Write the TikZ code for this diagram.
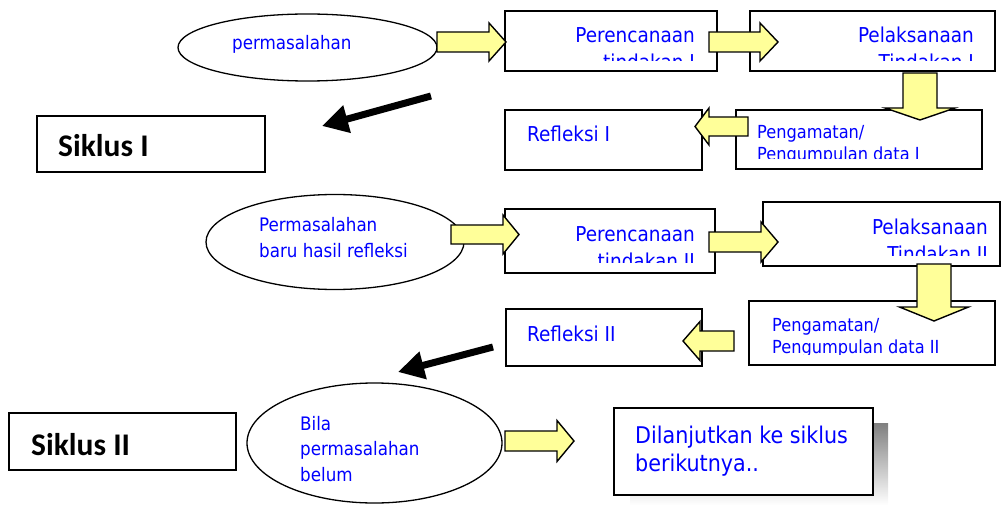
\documentclass[tikz,border=0pt]{standalone}
\usepackage{fontspec}
\usetikzlibrary{shapes.geometric,arrows.meta}
\newfontfamily\tahfont{DejaVu Sans Condensed}
\newfontfamily\sikfont{Carlito}
\definecolor{pale}{HTML}{FFFF99}
\definecolor{shade}{HTML}{C0C0C0}

% yellow block arrows: tail, centre, head base, tip, shaft width, head width
\newcommand{\hblock}[6]{\draw[yarrow] (#1,#2-#5/2) -- (#3,#2-#5/2) -- (#3,#2-#6/2) -- (#4,#2) -- (#3,#2+#6/2) -- (#3,#2+#5/2) -- (#1,#2+#5/2) -- cycle;}
\newcommand{\vblock}[6]{\draw[yarrow] (#2-#5/2,#1) -- (#2-#5/2,#3) -- (#2-#6/2,#3) -- (#2,#4) -- (#2+#6/2,#3) -- (#2+#5/2,#3) -- (#2+#5/2,#1) -- cycle;}
% text cut off above the bottom of its box (position = baseline of last line)
\newcommand{\boxtext}[5]{\begin{scope}
  \clip (#1.north west) rectangle ([yshift=11pt]#1.south east);
  \node[#2] (#4) at #3 {#5};
\end{scope}}

\begin{document}
\begin{tikzpicture}[x=1pt,y=-1pt,
    ell/.style={draw, ellipse, line width=1.3pt, inner sep=0pt},
    box/.style={draw, line width=1.8pt, fill=white, inner sep=0pt},
    sikbox/.style={draw, line width=1.5pt, inner sep=0pt},
    btext/.style={text=blue, inner sep=0pt, font=\tahfont\fontsize{20.5}{27}\selectfont},
    stext/.style={text=blue, inner sep=0pt, font=\tahfont\fontsize{18}{22}\selectfont},
    etext/.style={text=blue, inner sep=0pt, align=left, font=\tahfont\fontsize{18.6}{25.5}\selectfont},
    sik/.style={inner sep=0pt, font=\sikfont\bfseries\fontsize{31.5}{36}\selectfont},
    yarrow/.style={draw, line width=1.4pt, fill=pale, line join=miter},
    karrow/.style={line width=7pt, -{Triangle[length=26pt,width=27pt]}}]
  \useasboundingbox (0,0) rectangle (1001,505);

  % cycle I
  \node[ell, minimum width=259, minimum height=67] (perm1) at (307.5,47.5) {};
  \node[etext, anchor=base west] (t-perm1) at (232,50) {permasalahan};
  \node[box, minimum width=212, minimum height=60] (ren1) at (611,41) {};
  \boxtext{ren1}{btext, align=right, anchor=base east}{(695,70)}{t-ren1}{Perencanaan\\tindakan I}
  \node[box, minimum width=245, minimum height=60] (lak1) at (872.5,41) {};
  \boxtext{lak1}{btext, align=right, anchor=base east}{(974,70)}{t-lak1}{Pelaksanaan\\Tindakan I}
  \node[box, minimum width=246, minimum height=59] (amat1) at (859,139.5) {};
  \boxtext{amat1}{stext, align=left, anchor=base west}{(757,161)}{t-amat1}{Pengamatan/\\Pengumpulan data I}
  \node[box, minimum width=197, minimum height=60] (ref1) at (603.5,140) {};
  \node[btext, anchor=base west] (t-ref1) at (527,142) {Refleksi I};
  \node[sikbox, minimum width=228, minimum height=56] (sik1) at (151,144) {};
  \node[sik, anchor=base west] (t-sik1) at (58,157) {Siklus I};

  \hblock{437}{42}{489}{506}{20}{38}
  \hblock{709}{42}{760}{778}{20}{38}
  \vblock{73}{920}{108}{120}{34}{70}
  \hblock{748}{126.5}{709}{695}{19}{37}
  \coordinate (k1a) at (431,96);
  \coordinate (k1b) at (322,126);
  \draw[karrow] (k1a) -- (k1b);

  % cycle II
  \node[ell, minimum width=258, minimum height=95] (perm2) at (335,242) {};
  \node[etext, anchor=base west] (t-perm2) at (259,257) {Permasalahan\\baru hasil refleksi};
  \node[box, minimum width=210, minimum height=64] (ren2) at (610,241) {};
  \boxtext{ren2}{btext, align=right, anchor=base east}{(695,268)}{t-ren2}{Perencanaan\\tindakan II}
  \node[box, minimum width=237, minimum height=64] (lak2) at (881.5,234) {};
  \boxtext{lak2}{btext, align=right, anchor=base east}{(988,261)}{t-lak2}{Pelaksanaan\\Tindakan II}
  \node[box, minimum width=246, minimum height=64] (amat2) at (872,333) {};
  \boxtext{amat2}{stext, align=left, anchor=base west}{(772,353)}{t-amat2}{Pengamatan/\\Pengumpulan data II}
  \node[box, minimum width=196, minimum height=57] (ref2) at (604,337.5) {};
  \node[btext, anchor=base west] (t-ref2) at (527,341) {Refleksi II};

  \hblock{451}{234.5}{503}{519}{19}{39}
  \hblock{709}{242}{761}{778}{20}{40}
  \vblock{264}{934}{307}{321}{34}{69}
  \hblock{734}{341}{700}{683}{20}{39}
  \coordinate (k2a) at (493,347);
  \coordinate (k2b) at (398,372);
  \draw[karrow] (k2a) -- (k2b);

  % end
  \node[sikbox, minimum width=227, minimum height=57] (sik2) at (122.5,441.5) {};
  \node[sik, anchor=base west] (t-sik2) at (31,455) {Siklus II};
  \node[ell, minimum width=255, minimum height=120] (bila) at (374.5,443) {};
  \node[etext, anchor=base west] (t-bila) at (300,481) {Bila\\permasalahan\\belum};
  \fill[shade] (630,423) rectangle (888,505);
  \node[box, minimum width=259, minimum height=87] (lanjut) at (743.5,451.5) {};
  \node[btext, align=left, anchor=base west, font=\tahfont\fontsize{23}{28}\selectfont] (t-lanjut) at (635,471) {Dilanjutkan ke siklus\\berikutnya..};
  \hblock{505}{441}{557}{574}{20}{41}
\end{tikzpicture}
\end{document}
